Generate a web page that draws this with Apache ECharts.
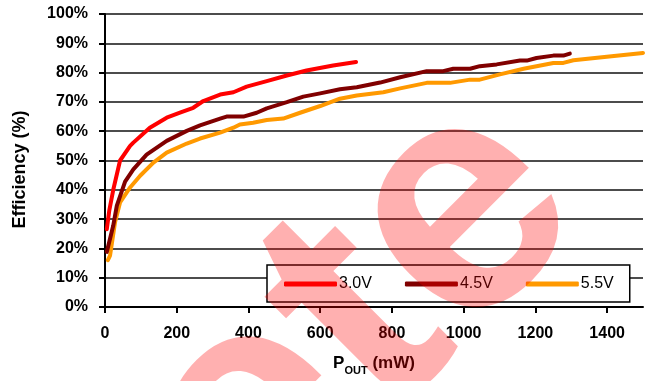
<!DOCTYPE html>
<html><head><meta charset="utf-8">
<script src="https://cdn.jsdelivr.net/npm/echarts@6/dist/echarts.min.js"></script>
<style>html,body{margin:0;padding:0;background:#fff}#c{width:645px;height:381px}</style>
</head><body><div id="c"></div>
<script>
var FONT = 'Liberation Sans, Arial, sans-serif';
var seriesNames = ['3.0V', '4.5V', '5.5V'];
var seriesColors = ['#ff0000', '#800000', '#ff9900'];

var v30x = [5, 12, 23, 42, 70, 79, 125, 172, 209, 246, 274, 321, 358, 395, 451, 507, 562, 636, 700];
var v30y = [26.5, 33, 40, 50, 55, 56.1, 61.2, 64.6, 66.3, 68, 70.3, 72.5, 73.3, 75.2, 77.1, 79, 80.7, 82.4, 83.6];

var v45x = [5, 23, 33, 56, 79, 116, 172, 228, 265, 321, 339, 386, 423, 451, 507, 553, 600, 655, 702, 767, 823, 897, 943, 971, 1018, 1045, 1092, 1157, 1176, 1203, 1250, 1278, 1296];
var v45y = [18.8, 27.8, 34.6, 42.8, 47, 52, 56.7, 60.1, 62, 64.3, 65, 65, 66.3, 67.8, 69.9, 71.8, 72.9, 74.3, 75, 76.6, 78.4, 80.5, 80.5, 81.3, 81.3, 82.2, 82.8, 84.1, 84.1, 85, 85.8, 85.8, 86.5];

var v55x = [8, 14, 28, 42, 70, 98, 135, 172, 228, 265, 321, 358, 376, 413, 451, 497, 544, 600, 655, 702, 776, 823, 897, 962, 1018, 1045, 1101, 1167, 1250, 1278, 1306, 1399, 1500];
var v55y = [16, 17.5, 28.9, 35.7, 40.8, 44.8, 49.3, 52.7, 55.8, 57.5, 59.5, 61.2, 62.3, 62.9, 63.8, 64.3, 66.3, 68.6, 71.1, 72.2, 73.3, 74.6, 76.5, 76.5, 77.6, 77.6, 79.4, 81.3, 83.3, 83.3, 84.2, 85.4, 86.7];

var xTicks = [0, 200, 400, 600, 800, 1000, 1200, 1400];
var yTicks = [0, 10, 20, 30, 40, 50, 60, 70, 80, 90, 100];

function zip(xs, ys) { return xs.map(function (x, i) { return [x, ys[i]]; }); }
var allX = [v30x, v45x, v55x], allY = [v30y, v45y, v55y];

var chart = echarts.init(document.getElementById('c'), null, {renderer: 'canvas'});
chart.setOption({
  animation: false,
  backgroundColor: '#fff',
  grid: {left: 105, right: 2, top: 14, bottom: 73, containLabel: false},
  xAxis: {
    type: 'value', min: 0, max: 1500, interval: 200,
    name: '{p|P}{s|OUT}{p| (mW)}', nameLocation: 'middle', nameGap: 48,
    nameTextStyle: {rich: {
      p: {fontFamily: FONT, fontWeight: 'bold', fontSize: 17, color: '#000', verticalAlign: 'bottom'},
      s: {fontFamily: FONT, fontWeight: 'bold', fontSize: 11, color: '#000', verticalAlign: 'bottom', padding: [0, 0, -4, 0]}
    }},
    axisLine: {show: true, lineStyle: {color: '#000', width: 2}},
    axisTick: {show: true, inside: false, length: 6, lineStyle: {color: '#000', width: 2}},
    axisLabel: {show: true, margin: 19, showMaxLabel: false, fontFamily: FONT, fontWeight: 'bold', fontSize: 16, color: '#000',
      formatter: function (v) { return xTicks.indexOf(v) >= 0 ? String(v) : ''; }},
    splitLine: {show: false}
  },
  yAxis: {
    type: 'value', min: 0, max: 100, interval: 10,
    name: 'Efficiency (%)', nameLocation: 'middle', nameGap: 76, nameRotate: 90,
    nameTextStyle: {fontFamily: FONT, fontWeight: 'bold', fontSize: 18, color: '#000', padding: [0, 18, 0, 0]},
    axisLine: {show: true, lineStyle: {color: '#000', width: 2}},
    axisTick: {show: true, inside: false, length: 6, lineStyle: {color: '#000', width: 2}},
    axisLabel: {show: true, margin: 17, fontFamily: FONT, fontWeight: 'bold', fontSize: 16, color: '#000',
      formatter: function (v) { return yTicks.indexOf(v) >= 0 ? v + '%' : ''; }},
    splitLine: {show: true, lineStyle: {color: '#111', width: 1.5}}
  },
  legend: {
    left: 267, top: 265, orient: 'horizontal',
    padding: [11, 16, 10, 17], itemGap: 33, itemWidth: 53, itemHeight: 5,
    icon: 'roundRect',
    borderColor: '#000', borderWidth: 1.5, backgroundColor: '#fff',
    textStyle: {fontFamily: FONT, fontSize: 16, color: '#000', padding: [2, 0, 0, -3]},
    data: seriesNames
  },
  series: seriesNames.map(function (n, i) {
    return {
      name: n, type: 'line', data: zip(allX[i], allY[i]),
      showSymbol: false, symbol: 'none', smooth: false,
      color: seriesColors[i],
      lineStyle: {color: seriesColors[i], width: 4, cap: 'round', join: 'round'},
      z: 3 - i
    };
  }),
  graphic: [{
    type: 'text', z: 100, silent: true,
    x: 528, y: 151, rotation: Math.PI / 4,
    style: {text: 'Obsolete', font: 'bold 330px ' + FONT, fill: 'rgba(255,0,0,0.31)', align: 'right', verticalAlign: 'middle'}
  }]
});
</script></body></html>
